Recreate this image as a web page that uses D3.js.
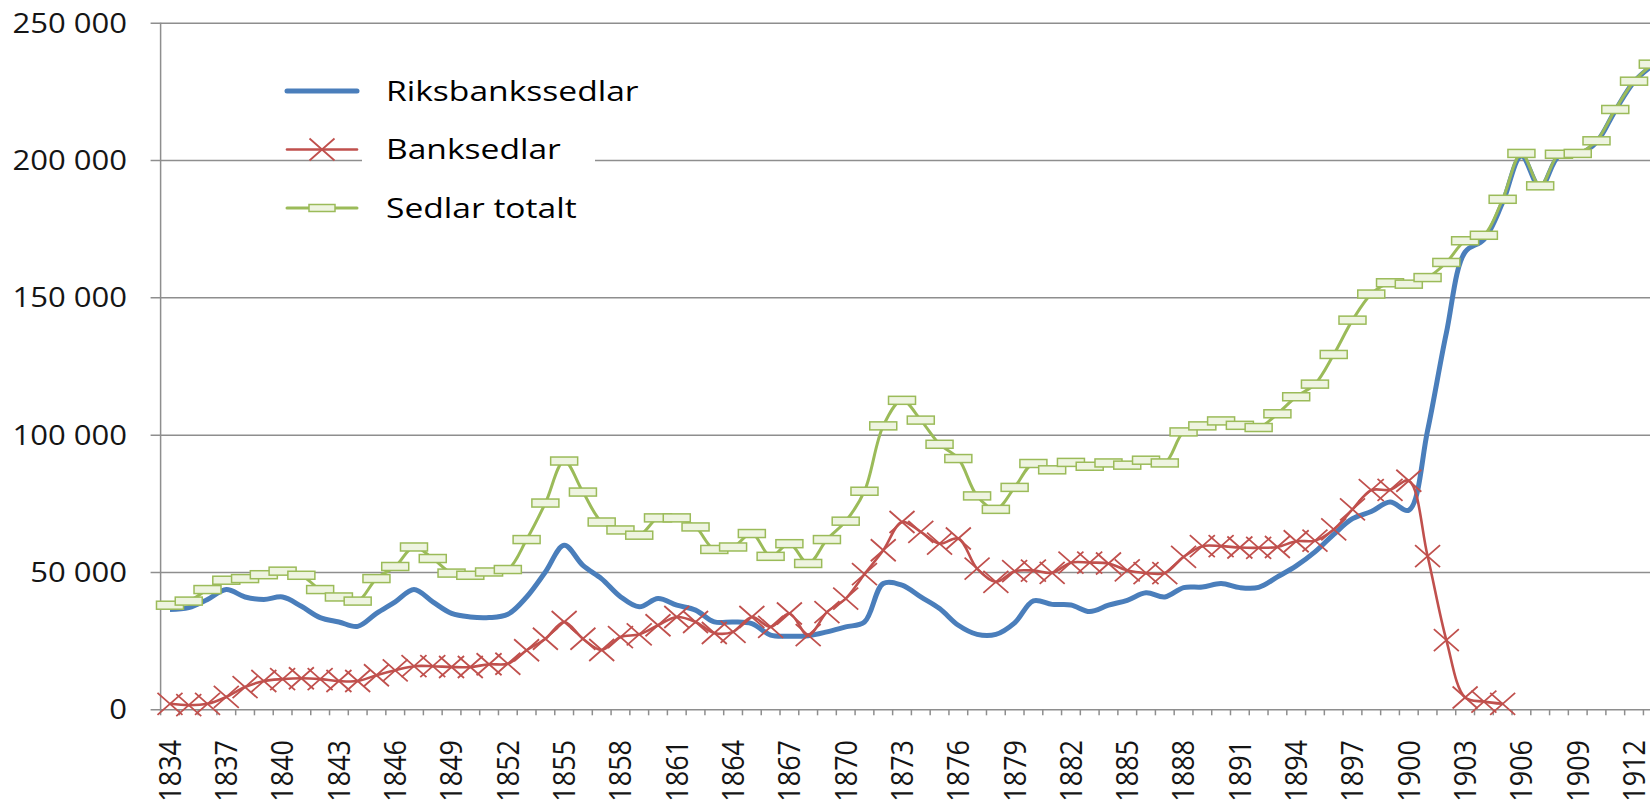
<!DOCTYPE html>
<html lang="sv">
<head>
<meta charset="UTF-8">
<title>Sedlar i omlopp 1834–1913</title>
<script src="https://d3js.org/d3.v7.min.js"></script>
<style>
  body { margin: 0; background: #fff; }
  svg { display: block; font-family: "Open Sans", sans-serif; }
</style>
</head>
<body>
<div id="chart"></div>
<script>
// --- data ---
const years = d3.range(1834, 1914);

const riksbankssedlar = [
  36300, 37000, 40000, 43600, 40900, 40000, 40900, 37500, 33400, 31800,
  30200, 34900, 39100, 43600, 39100, 34900, 33600, 33400, 34600, 40900,
  50000, 59700, 52400, 47500, 41000, 37300, 40300, 37900, 36100, 31800,
  31800, 31200, 27000, 26600, 26800, 28200, 30000, 31800, 45800, 45200,
  40900, 36700, 30600, 27300, 27300, 31500, 39500, 38200, 38000, 35600,
  37900, 39700, 42400, 40900, 44300, 44500, 45800, 44300, 44400, 48200,
  52200, 57300, 63700, 69400, 72000, 75500, 72500, 101500, 137000, 166500,
  171000, 184500, 201500, 190000, 201500, 202000, 206500, 218000, 228500, 234500
];

// Banksedlar stop after 1905
const banksedlar = [
  2000, 1500, 2000, 4500, 8100, 10300, 11000, 11300, 11000, 10300,
  10300, 12400, 14200, 15700, 15700, 15400, 15400, 16400, 16600, 21500,
  25700, 31800, 25700, 21600, 26300, 27300, 30600, 33600, 31800, 27800,
  28200, 33600, 30000, 34900, 27000, 35400, 40300, 49200, 57900, 68200,
  64600, 60300, 62200, 51200, 46400, 50300, 50500, 49700, 53400, 53400,
  53100, 50600, 49600, 49600, 55500, 59400, 59400, 58900, 58800, 59100,
  61200, 61400, 65500, 72800, 79800, 79900, 83200, 55800, 25200, 4300,
  2800, 2000
];

const sedlarTotalt = [
  37900, 39400, 43600, 47000, 47600, 49000, 50300, 48800, 43600, 40900,
  39400, 47600, 52000, 59100, 54900, 49600, 48800, 50000, 50900, 61800,
  75100, 90400, 79100, 68200, 65300, 63400, 69700, 69700, 66400, 58200,
  59100, 64000, 55700, 60300, 53100, 61800, 68500, 79400, 103200, 112500,
  105300, 96500, 91300, 77700, 72800, 80800, 89500, 87200, 89900, 88500,
  89700, 88900, 90700, 89700, 101000, 103200, 105000, 103400, 102600, 107600,
  113800, 118400, 129200, 141700, 151200, 155300, 154800, 157200, 162700, 170600,
  172600, 185700, 202400, 190600, 202100, 202400, 207000, 218400, 228700, 234900
];

const yTicks = [0, 50000, 100000, 150000, 200000, 250000];
const xLabelYears = years.filter((d, i) => i % 3 === 0);

const seriesNames = ["Riksbankssedlar", "Banksedlar", "Sedlar totalt"];

// --- setup ---
const width = 1650, height = 810;
const plotLeft = 160.6, plotRight = 1662.2, plotTop = 22.7, plotBottom = 709.3;
const stretch = 1.15;           // text in the picture is a bit wide
const fontSize = 27;
const gridColor = "#8e8e8e";
const textColor = "#151515";
const colors = { blue: "#4a7ebb", red: "#c0504d", green: "#9bbb59" };

const svg = d3.select("#chart").append("svg")
    .attr("width", width)
    .attr("height", height);

const x = d3.scaleBand().domain(years).range([plotLeft, plotRight]).padding(0);
const cx = d => x(d) + x.bandwidth() / 2;
const y = d3.scaleLinear().domain([0, 250000]).range([plotBottom, plotTop]);

const fmt = d3.formatLocale({ decimal: ",", thousands: "\u00a0", grouping: [3], currency: ["", " kr"] }).format(",d");

// --- y axis: gridlines + labels ---
const yAxis = svg.append("g")
    .attr("transform", `translate(${plotLeft},0)`)
    .call(d3.axisLeft(y).tickValues(yTicks).tickFormat(fmt)
      .tickSizeInner(-(plotRight - plotLeft)).tickSizeOuter(0).tickPadding(0));
yAxis.select(".domain").remove();
yAxis.selectAll(".tick line")
    .attr("x1", -10)
    .attr("stroke", gridColor)
    .attr("stroke-width", 1.5);
yAxis.selectAll(".tick text")
    .attr("x", null)
    .attr("dy", "0.35em")
    .attr("transform", `translate(-33.5,0) scale(${stretch},1)`)
    .attr("font-size", fontSize)
    .attr("font-family", "Open Sans")
    .attr("fill", textColor);

// vertical axis line
svg.append("line")
    .attr("x1", plotLeft).attr("x2", plotLeft)
    .attr("y1", y(250000)).attr("y2", y(0))
    .attr("stroke", gridColor).attr("stroke-width", 1.5);

// --- x axis: tick marks between categories, labels every 3 years ---
svg.append("g").selectAll("line")
  .data(years.concat([null]))
  .join("line")
    .attr("x1", d => d === null ? plotRight : x(d))
    .attr("x2", d => d === null ? plotRight : x(d))
    .attr("y1", y(0))
    .attr("y2", y(0) + 6)
    .attr("stroke", gridColor)
    .attr("stroke-width", 1.5);

svg.append("g").selectAll("text")
  .data(xLabelYears)
  .join("text")
    .attr("transform", d => `translate(${cx(d)},740) scale(${stretch},1) rotate(-90)`)
    .attr("text-anchor", "end")
    .attr("dy", "0.35em")
    .attr("font-size", fontSize)
    .attr("fill", textColor)
    .text(d => d);

// --- series ---
const line = d3.line()
    .x(d => cx(d.year))
    .y(d => y(d.value))
    .curve(d3.curveCatmullRom.alpha(0.5));

const toPoints = arr => arr.map((v, i) => ({ year: years[i], value: v }));

const blueData = toPoints(riksbankssedlar);
const redData = toPoints(banksedlar);
const greenData = toPoints(sedlarTotalt);

const xMarker = "M-12.5,-11L12.5,11M-12.5,11L12.5,-11";

// blue
svg.append("path")
    .datum(blueData)
    .attr("d", line)
    .attr("fill", "none")
    .attr("stroke", colors.blue)
    .attr("stroke-width", 5)
    .attr("stroke-linejoin", "round");

// red
svg.append("path")
    .datum(redData)
    .attr("d", line)
    .attr("fill", "none")
    .attr("stroke", colors.red)
    .attr("stroke-width", 2.6)
    .attr("stroke-linejoin", "round");
svg.append("g").selectAll("path")
  .data(redData)
  .join("path")
    .attr("transform", d => `translate(${cx(d.year)},${y(d.value)})`)
    .attr("d", xMarker)
    .attr("fill", "none")
    .attr("stroke", colors.red)
    .attr("stroke-width", 1.8);

// green
svg.append("path")
    .datum(greenData)
    .attr("d", line)
    .attr("fill", "none")
    .attr("stroke", colors.green)
    .attr("stroke-width", 3)
    .attr("stroke-linejoin", "round");
svg.append("g").selectAll("rect")
  .data(greenData)
  .join("rect")
    .attr("x", d => cx(d.year) - 13.5)
    .attr("y", d => y(d.value) - 4)
    .attr("width", 27)
    .attr("height", 8)
    .attr("fill", "#eef4e0")
    .attr("stroke", colors.green)
    .attr("stroke-width", 1.5);

// --- legend ---
const legend = svg.append("g");
legend.append("rect")
    .attr("x", 362).attr("y", 62)
    .attr("width", 233).attr("height", 172)
    .attr("fill", "#fff");

const legendY = [91, 149.5, 208];
const legendColors = [colors.blue, colors.red, colors.green];
const legendWidths = [5, 2.6, 3];

seriesNames.forEach((name, i) => {
  const ly = legendY[i];
  legend.append("line")
      .attr("x1", 287).attr("x2", 357)
      .attr("y1", ly).attr("y2", ly)
      .attr("stroke", legendColors[i])
      .attr("stroke-width", legendWidths[i])
      .attr("stroke-linecap", "round");
  if (i === 1) {
    legend.append("path")
        .attr("transform", `translate(322,${ly})`)
        .attr("d", xMarker)
        .attr("fill", "none")
        .attr("stroke", colors.red)
        .attr("stroke-width", 1.8);
  }
  if (i === 2) {
    legend.append("rect")
        .attr("x", 309).attr("y", ly - 3.5)
        .attr("width", 26).attr("height", 7)
        .attr("fill", "#eef4e0")
        .attr("stroke", colors.green)
        .attr("stroke-width", 1.5);
  }
  legend.append("text")
      .attr("transform", `translate(386,${ly}) scale(1.2,1)`)
      .attr("dy", "0.35em")
      .attr("font-size", 28)
      .attr("fill", "#000")
      .text(name);
});
</script>
</body>
</html>
